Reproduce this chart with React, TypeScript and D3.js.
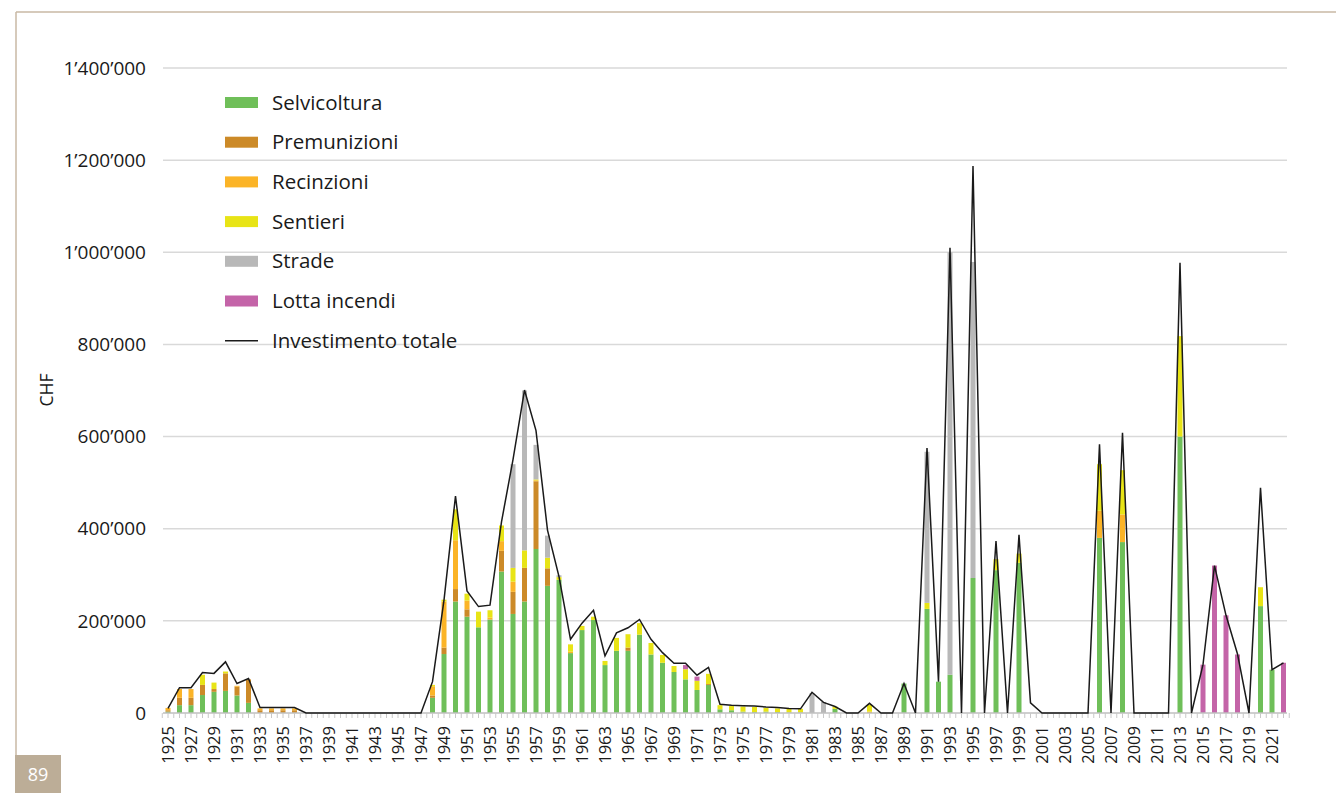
import React from "react";
import * as d3 from "d3";

// Years 1925–2022 (categories)
const years: number[] = d3.range(1925, 2023);

// Values in thousand CHF, one per year 1925..2022
const selvicoltura = [
  3, 17, 17, 39, 46, 48, 38, 22, 0, 0,
  0, 0, 0, 0, 0, 0, 0, 0, 0, 0,
  0, 0, 0, 33, 128, 242, 209, 186, 203, 307,
  215, 242, 356, 276, 289, 130, 180, 202, 104, 135,
  135, 170, 127, 109, 89, 73, 50, 61, 8, 6,
  3, 2, 3, 2, 1, 1, 0, 0, 9, 0,
  0, 0, 0, 0, 64, 0, 226, 68, 83, 0,
  293, 0, 310, 0, 326, 0, 0, 0, 0, 0,
  0, 380, 0, 371, 0, 0, 0, 0, 600, 0,
  0, 0, 0, 0, 0, 232, 94, 0,
];
const premunizioni = [
  3, 16, 16, 22, 6, 38, 19, 51, 6, 6,
  6, 6, 0, 0, 0, 0, 0, 0, 0, 0,
  0, 0, 0, 5, 14, 27, 16, 0, 0, 45,
  48, 73, 147, 38, 0, 0, 0, 0, 0, 0,
  7, 0, 0, 0, 0, 0, 0, 2, 0, 0,
  0, 0, 0, 0, 0, 0, 0, 0, 0, 0,
  0, 0, 0, 0, 0, 0, 0, 0, 0, 0,
  0, 0, 0, 0, 0, 0, 0, 0, 0, 0,
  0, 0, 0, 0, 0, 0, 0, 0, 0, 0,
  0, 0, 0, 0, 0, 0, 0, 0,
];
const recinzioni = [
  5, 19, 19, 0, 0, 0, 2, 0, 4, 4,
  4, 4, 0, 0, 0, 0, 0, 0, 0, 0,
  0, 0, 0, 20, 100, 106, 19, 0, 4, 21,
  22, 0, 2, 0, 0, 3, 0, 0, 0, 0,
  0, 0, 0, 0, 0, 0, 0, 0, 0, 0,
  0, 0, 0, 0, 0, 0, 0, 0, 0, 0,
  0, 3, 0, 0, 0, 0, 0, 0, 0, 0,
  0, 0, 0, 0, 0, 0, 0, 0, 0, 0,
  0, 59, 0, 60, 0, 0, 0, 0, 0, 0,
  0, 0, 0, 0, 0, 0, 0, 0,
];
const sentieri = [
  0, 0, 0, 22, 14, 4, 0, 0, 0, 0,
  0, 0, 0, 0, 0, 0, 0, 0, 0, 0,
  0, 0, 0, 3, 4, 67, 15, 34, 16, 34,
  30, 38, 2, 23, 6, 16, 9, 7, 9, 28,
  29, 25, 25, 17, 13, 22, 20, 22, 9, 9,
  11, 11, 8, 8, 8, 8, 0, 0, 5, 0,
  0, 15, 0, 0, 0, 0, 13, 0, 0, 0,
  0, 0, 24, 0, 20, 0, 0, 0, 0, 0,
  0, 101, 0, 96, 0, 0, 0, 0, 218, 0,
  0, 0, 0, 0, 0, 41, 0, 0,
];
const strade = [
  0, 0, 0, 0, 0, 0, 0, 0, 0, 0,
  0, 0, 0, 0, 0, 0, 0, 0, 0, 0,
  0, 0, 0, 0, 0, 0, 0, 0, 0, 0,
  225, 347, 75, 48, 4, 0, 0, 0, 0, 0,
  0, 0, 0, 0, 0, 0, 0, 0, 0, 0,
  0, 0, 0, 0, 0, 0, 43, 24, 0, 0,
  0, 0, 0, 0, 0, 0, 328, 0, 917, 0,
  686, 0, 0, 0, 0, 0, 0, 0, 0, 0,
  0, 0, 0, 0, 0, 0, 0, 0, 0, 0,
  0, 0, 0, 0, 0, 0, 0, 0,
];
const lottaIncendi = [
  0, 0, 0, 0, 0, 0, 0, 0, 0, 0,
  0, 0, 0, 0, 0, 0, 0, 0, 0, 0,
  0, 0, 0, 0, 0, 0, 0, 0, 0, 0,
  0, 0, 0, 0, 0, 0, 0, 0, 0, 0,
  0, 0, 0, 0, 0, 9, 9, 0, 0, 0,
  0, 0, 0, 0, 0, 0, 0, 0, 0, 0,
  0, 0, 0, 0, 0, 0, 0, 0, 0, 0,
  0, 0, 0, 0, 0, 0, 0, 0, 0, 0,
  0, 0, 0, 0, 0, 0, 0, 0, 0, 0,
  105, 320, 212, 127, 0, 0, 0, 109,
];
const investimentoTotale = [
  10, 55, 55, 88, 86, 111, 64, 75, 12, 12,
  12, 12, 0, 0, 0, 0, 0, 0, 0, 0,
  0, 0, 0, 68, 245, 471, 265, 231, 234, 415,
  550, 701, 613, 397, 296, 160, 195, 223, 124, 174,
  185, 203, 160, 131, 108, 108, 82, 99, 19, 17,
  16, 15, 13, 12, 10, 9, 45, 23, 14, 0,
  0, 21, 0, 0, 64, 0, 575, 68, 1010, 0,
  1187, 0, 373, 0, 387, 22, 0, 0, 0, 0,
  0, 583, 0, 608, 0, 0, 0, 0, 977, 0,
  105, 320, 212, 128, 0, 489, 94, 109,
];

const seriesNames = ["Selvicoltura", "Premunizioni", "Recinzioni", "Sentieri", "Strade", "Lotta incendi"];
const seriesValues = [selvicoltura, premunizioni, recinzioni, sentieri, strade, lottaIncendi];
const seriesColors = ["#6fbf59", "#cc8a28", "#fbb427", "#e8e416", "#b8b8b8", "#c464a8"];
const totalLabel = "Investimento totale";
const yTicks = [0, 200000, 400000, 600000, 800000, 1000000, 1200000, 1400000];
const pageNumber = "89";

const FONT = "'Open Sans', 'Noto Sans', sans-serif";

function fmt(v: number): string {
  if (v === 0) return "0";
  const s = String(v);
  return s.replace(/\B(?=(\d{3})+(?!\d))/g, "\u2019");
}

export default function App() {
  const W = 1336, H = 793;
  const x = d3.scaleBand<number>().domain(years).range([162.25, 1289.25]).padding(0);
  const y = d3.scaleLinear().domain([0, 1400000]).range([713, 68]);
  const step = x.step();
  const barW = 5;

  const table = years.map((yr, i) => {
    const row: any = { year: yr };
    seriesNames.forEach((n, k) => (row[n] = seriesValues[k][i] * 1000));
    return row;
  });
  const stack = d3.stack<any>().keys(seriesNames)(table);

  const line = d3
    .line<number>()
    .x((_, i) => (x(years[i]) as number) + step / 2)
    .y((d) => y(d * 1000));

  const halfTicks = d3.range(0, years.length * 2 + 1).map((k) => 162.25 + (k * step) / 2);

  return (
    <svg
      width={W}
      height={H}
      style={{ position: "absolute", left: 0, top: 0, background: "#fff" }}
      fontFamily={FONT}
    >
      {/* page frame */}
      <line x1={16} y1={12} x2={W} y2={12} stroke="#c8b9a4" strokeWidth={1.5} />
      <line x1={16} y1={12} x2={16} y2={756} stroke="#c8b9a4" strokeWidth={1.5} />
      <rect x={15} y={755} width={46} height={38} fill="#bcad97" />
      <text x={38} y={781} fill="#fff" fontSize={18} textAnchor="middle">
        {pageNumber}
      </text>

      {/* grid */}
      {yTicks.slice(1).map((t) => (
        <line key={t} x1={163} x2={1287} y1={y(t)} y2={y(t)} stroke="#d9d9d9" strokeWidth={1.5} />
      ))}
      {yTicks.map((t) => (
        <text key={"l" + t} x={146} y={y(t)} dy="0.35em" textAnchor="end" fontSize={19} fill="#1a1a1a">
          {fmt(t)}
        </text>
      ))}
      <text transform="translate(53,390) rotate(-90)" textAnchor="middle" fontSize={17.5} fill="#1a1a1a">
        CHF
      </text>

      {/* bars */}
      {stack.map((s, k) => (
        <g key={seriesNames[k]} fill={seriesColors[k]}>
          {s.map((d, i) =>
            d[1] - d[0] > 0 ? (
              <rect
                key={i}
                x={(x(years[i]) as number) + step / 2 - barW / 2}
                width={barW}
                y={y(d[1])}
                height={y(d[0]) - y(d[1])}
              />
            ) : null
          )}
        </g>
      ))}

      {/* axis */}
      <line x1={163} x2={1287} y1={713} y2={713} stroke="#bfbfbf" strokeWidth={1.5} />
      {halfTicks.map((tx, i) => (
        <line key={i} x1={tx} x2={tx} y1={713} y2={718} stroke="#c8c8c8" strokeWidth={1} />
      ))}
      {years.map((yr) =>
        (yr - 1925) % 2 === 0 ? (
          <text
            key={yr}
            transform={`translate(${(x(yr) as number) + step / 2},726) rotate(-90)`}
            textAnchor="end"
            dy="0.35em"
            fontSize={16.5}
            fill="#1a1a1a"
          >
            {yr}
          </text>
        ) : null
      )}

      {/* total line */}
      <path d={line(investimentoTotale) as string} fill="none" stroke="#1a1a1a" strokeWidth={1.5} strokeLinejoin="miter" />

      {/* legend */}
      {seriesNames.map((n, k) => {
        const cy = 102.5 + k * 39.7;
        return (
          <g key={n}>
            <rect x={225} y={cy - 5.5} width={33} height={11} fill={seriesColors[k]} />
            <text x={272} y={cy} dy="0.35em" fontSize={20.5} fill="#1a1a1a">
              {n}
            </text>
          </g>
        );
      })}
      <line x1={225} x2={258} y1={102.5 + 6 * 39.7} y2={102.5 + 6 * 39.7} stroke="#1a1a1a" strokeWidth={1.5} />
      <text x={272} y={102.5 + 6 * 39.7} dy="0.35em" fontSize={20.5} fill="#1a1a1a">
        {totalLabel}
      </text>
    </svg>
  );
}
